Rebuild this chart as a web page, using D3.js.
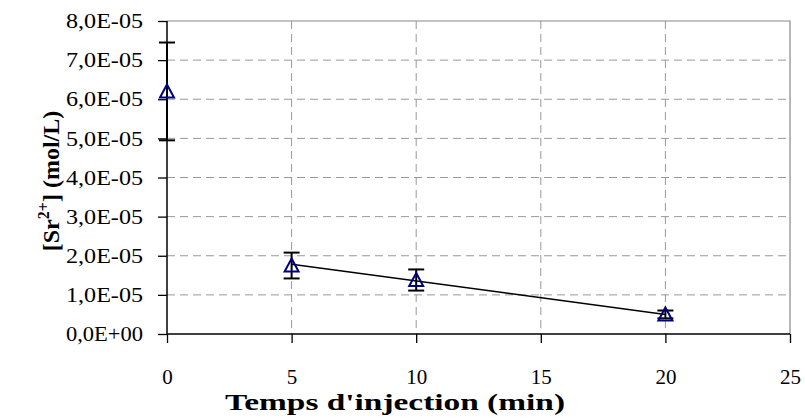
<!DOCTYPE html>
<html><head><meta charset="utf-8">
<script src="https://cdn.jsdelivr.net/npm/d3@7"></script>
<style>body{margin:0;background:#fff}svg{display:block}</style>
</head><body><svg id="c" width="805" height="419"></svg>
<script>
const times = [0, 5, 10, 20];
const conc = [6.2e-5, 1.75e-5, 1.38e-5, 0.5e-5];
const errs = [1.25e-5, 0.33e-5, 0.27e-5, 0.1e-5];
const trendX = [5, 20];
const trendY = [1.78e-5, 0.5e-5];
const xTicks = [0, 5, 10, 15, 20, 25];
const yTicks = [0, 1e-5, 2e-5, 3e-5, 4e-5, 5e-5, 6e-5, 7e-5, 8e-5];

const FONT = '"Times New Roman"';
const svg = d3.select("#c");
const L = 167, R = 790, T = 21, B = 334;
const x = d3.scaleLinear().domain([0, 25]).range([L, R]);
const y = d3.scaleLinear().domain([0, 8e-5]).range([B, T]);
const fmtY = v => {
  if (v === 0) return "0,0E+00";
  const e = Math.floor(Math.log10(v) + 1e-9);
  const m = v / Math.pow(10, e);
  return m.toFixed(1).replace(".", ",") + "E-" + String(-e).padStart(2, "0");
};

// grid
svg.append("g").selectAll("line").data(yTicks.filter(v => v > 0 && v < 8e-5)).join("line")
  .attr("x1", L).attr("x2", R).attr("y1", d => y(d)).attr("y2", d => y(d))
  .attr("stroke", "#999").attr("stroke-dasharray", "8,5").attr("stroke-width", 1);
svg.append("g").selectAll("line").data(xTicks.filter(v => v > 0 && v < 25)).join("line")
  .attr("y1", T).attr("y2", B).attr("x1", d => x(d)).attr("x2", d => x(d))
  .attr("stroke", "#999").attr("stroke-dasharray", "8,5").attr("stroke-width", 1);
svg.append("path").attr("d", `M${L},${T}H${R}V${B}`).attr("fill", "none").attr("stroke", "#888").attr("stroke-width", 1.2);

// axes
const ya = svg.append("g").attr("transform", `translate(${L},0)`)
  .call(d3.axisLeft(y).tickValues(yTicks).tickFormat(fmtY).tickSize(9).tickPadding(15));
const xa = svg.append("g").attr("transform", `translate(0,${B})`)
  .call(d3.axisBottom(x).tickValues(xTicks).tickSize(9).tickPadding(26));
[ya, xa].forEach(a => {
  a.attr("font-family", FONT).attr("font-size", 21);
  a.select(".domain").attr("stroke", "#000").attr("stroke-width", 1.5);
  a.selectAll(".tick line").attr("stroke", "#000").attr("stroke-width", 1.3);
  a.selectAll("text").attr("fill", "#000").style("font-family", FONT).style("font-size", "21px");
});
ya.selectAll("text").attr("textLength", 77).attr("lengthAdjust", "spacingAndGlyphs");
ya.select(".domain").attr("d", `M0,${B}V${T}`);
xa.select(".domain").attr("d", `M${L},0H${R}`);

// trendline
svg.append("path").datum(trendX.map((t, i) => [t, trendY[i]]))
  .attr("d", d3.line().x(d => x(d[0])).y(d => y(d[1])))
  .attr("stroke", "#000").attr("stroke-width", 1.5).attr("fill", "none");

// error bars
const data = times.map((t, i) => ({ t, v: conc[i], e: errs[i] }));
const eb = svg.append("g").selectAll("g").data(data).join("g");
eb.append("line").attr("x1", d => x(d.t)).attr("x2", d => x(d.t))
  .attr("y1", d => y(d.v + d.e)).attr("y2", d => y(d.v - d.e)).attr("stroke", "#000").attr("stroke-width", 2);
eb.append("line").attr("x1", d => x(d.t) - 8).attr("x2", d => x(d.t) + 8)
  .attr("y1", d => y(d.v + d.e)).attr("y2", d => y(d.v + d.e)).attr("stroke", "#000").attr("stroke-width", 2);
eb.append("line").attr("x1", d => x(d.t) - 8).attr("x2", d => x(d.t) + 8)
  .attr("y1", d => y(d.v - d.e)).attr("y2", d => y(d.v - d.e)).attr("stroke", "#000").attr("stroke-width", 2);

// markers
svg.append("g").selectAll("path").data(data).join("path")
  .attr("transform", d => `translate(${x(d.t)},${y(d.v)})`)
  .attr("d", "M0,-7L7,6L-7,6Z")
  .attr("fill", "none").attr("stroke", "#000080").attr("stroke-width", 2);

// titles
svg.append("text").attr("x", 395).attr("y", 410).attr("text-anchor", "middle")
  .style("font-family", FONT).style("font-size", "24px").style("font-weight", "bold")
  .attr("textLength", 340).attr("lengthAdjust", "spacingAndGlyphs")
  .text("Temps d'injection (min)");
const yt = svg.append("text").attr("transform", "translate(59,181) rotate(-90)")
  .attr("text-anchor", "middle").style("font-family", FONT).style("font-size", "24px").style("font-weight", "bold");
yt.append("tspan").text("[Sr");
yt.append("tspan").attr("dy", -10).style("font-size", "16px").text("2+");
yt.append("tspan").attr("dy", 10).text("] (mol/L)");
</script></body></html>
